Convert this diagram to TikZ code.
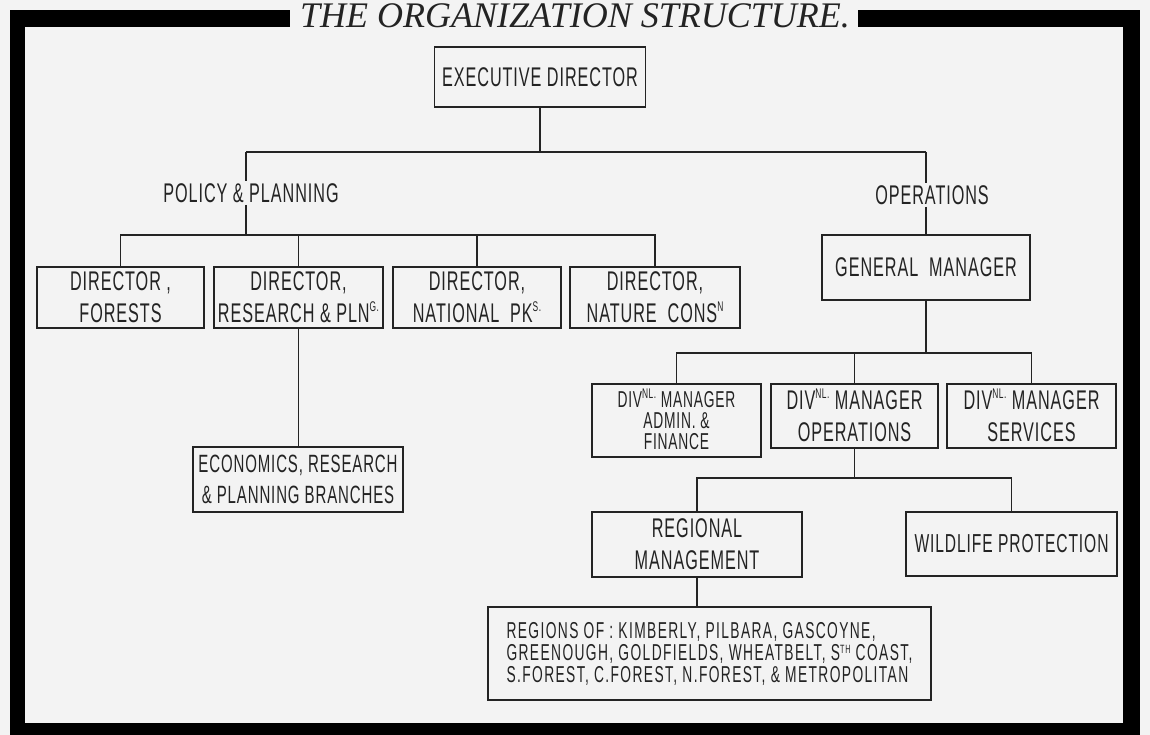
\documentclass[tikz,border=0pt]{standalone}
\usepackage{fontspec}
\newfontfamily\hand[FakeStretch=0.6, LetterSpace=3.5]{Liberation Sans}
\newfontfamily\handwide[FakeStretch=0.6, LetterSpace=6]{Liberation Sans}
\newfontfamily\titlefont{Liberation Serif}
\definecolor{bg}{RGB}{243,243,243}
\definecolor{ink}{RGB}{35,35,35}
\newcommand{\hsup}[1]{\smash{\raisebox{0.40em}{\fontsize{14}{14}\selectfont #1}}}
\newcommand{\lowsup}[1]{\smash{\raisebox{0.28em}{\fontsize{12}{12}\selectfont #1}}}
\tikzset{
  orgbox/.style={draw=ink, line width=1.4pt, fill=bg, inner sep=0pt, align=center,
    text=ink, font=\hand\fontsize{27}{32}\selectfont},
  lbl/.style={inner sep=2pt, text=ink, font=\hand\fontsize{27}{30}\selectfont},
  conn/.style={draw=ink, line width=1.4pt}
}
\begin{document}
\begin{tikzpicture}[x=1pt,y=-1pt]
\useasboundingbox (0,0) rectangle (1150,735);
% background and frame
\fill[bg] (0,0) rectangle (1150,735);
\fill[black] (10,10) rectangle (1140,735);
\fill[bg] (25,27) rectangle (1123,723);
\fill[bg] (290,0) rectangle (858,27);
\node[anchor=base, inner sep=0pt, font=\titlefont\itshape\fontsize{36}{36}\selectfont, text=ink] (title) at (575,28) {THE ORGANIZATION STRUCTURE.};

% nodes
\node[orgbox, minimum width=211, minimum height=60] (ed) at (540,77) {EXECUTIVE DIRECTOR};
\node[lbl] (pp) at (251,193) {POLICY \& PLANNING};
\node[lbl] (op) at (932,195) {OPERATIONS};

\node[orgbox, minimum width=167, minimum height=61] (d1) at (120.5,297.5) {DIRECTOR ,\\FORESTS};
\node[orgbox, minimum width=169, minimum height=61] (d2) at (298.5,297.5) {DIRECTOR,\\RESEARCH \& PLN\hsup{G.}};
\node[orgbox, minimum width=168, minimum height=61] (d3) at (477,297.5) {DIRECTOR,\\NATIONAL\ \ PK\hsup{S.}};
\node[orgbox, minimum width=170, minimum height=61] (d4) at (655,297.5) {DIRECTOR,\\NATURE\ \ CONS\hsup{N}};
\node[orgbox, minimum width=210, minimum height=65, font=\hand\fontsize{25}{31}\selectfont] (econ) at (298,479.5) {ECONOMICS, RESEARCH\\\& PLANNING BRANCHES};

\node[orgbox, minimum width=208, minimum height=65] (gm) at (926,267.5) {GENERAL\ \ MANAGER};
\node[orgbox, minimum width=169, minimum height=73, font=\hand\fontsize{23}{21}\selectfont] (adm) at (676.5,420.5) {DIV\hsup{NL.} MANAGER\\ADMIN. \&\\FINANCE};
\node[orgbox, minimum width=167, minimum height=64] (dops) at (854.5,416) {DIV\hsup{NL.} MANAGER\\OPERATIONS};
\node[orgbox, minimum width=169, minimum height=64] (serv) at (1031.5,416) {DIV\hsup{NL.} MANAGER\\SERVICES};
\node[orgbox, minimum width=210, minimum height=65] (reg) at (697,544.5) {REGIONAL\\MANAGEMENT};
\node[orgbox, minimum width=211, minimum height=64, font=\hand\fontsize{26}{31}\selectfont] (wild) at (1011.5,544) {WILDLIFE PROTECTION};
\node[orgbox, minimum width=443, minimum height=93, align=left, font=\handwide\fontsize{23}{22}\selectfont] (regions) at (709.5,653.5)
  {REGIONS OF :\ KIMBERLY, PILBARA, GASCOYNE,\\GREENOUGH, GOLDFIELDS, WHEATBELT, S\lowsup{TH} COAST,\\S.FOREST, C.FOREST, N.FOREST, \& METROPOLITAN};

% junction coordinates
\coordinate (edj) at (540,152);
\coordinate (ppj) at (246,152);
\coordinate (opj) at (926,152);

% connectors
\draw[conn] (ed.south) -- (edj);
\draw[conn] (ppj) -- (opj);
\draw[conn] (ppj) -- (pp.north -| ppj);
\draw[conn] (pp.south -| ppj) -- (ppj |- 0,235);
\draw[conn] (opj) -- (op.north -| opj);
\draw[conn] (op.south -| opj) -- (gm.north -| opj);

\draw[conn] (d1.north) |- (d4.north |- 0,235) -- (d4.north);
\draw[conn] (d2.north) -- (d2.north |- 0,235);
\draw[conn] (d3.north) -- (d3.north |- 0,235);
\draw[conn] (d2.south) -- (d2.south |- econ.north);

\draw[conn] (gm.south) -- (gm.south |- 0,353);
\draw[conn] (adm.north) |- (serv.north |- 0,353) -- (serv.north);
\draw[conn] (dops.north) -- (dops.north |- 0,353);

\draw[conn] (dops.south) -- (dops.south |- 0,478);
\draw[conn] (reg.north) |- (wild.north |- 0,478) -- (wild.north);
\draw[conn] (reg.south) -- (reg.south |- regions.north);
\end{tikzpicture}
\end{document}
